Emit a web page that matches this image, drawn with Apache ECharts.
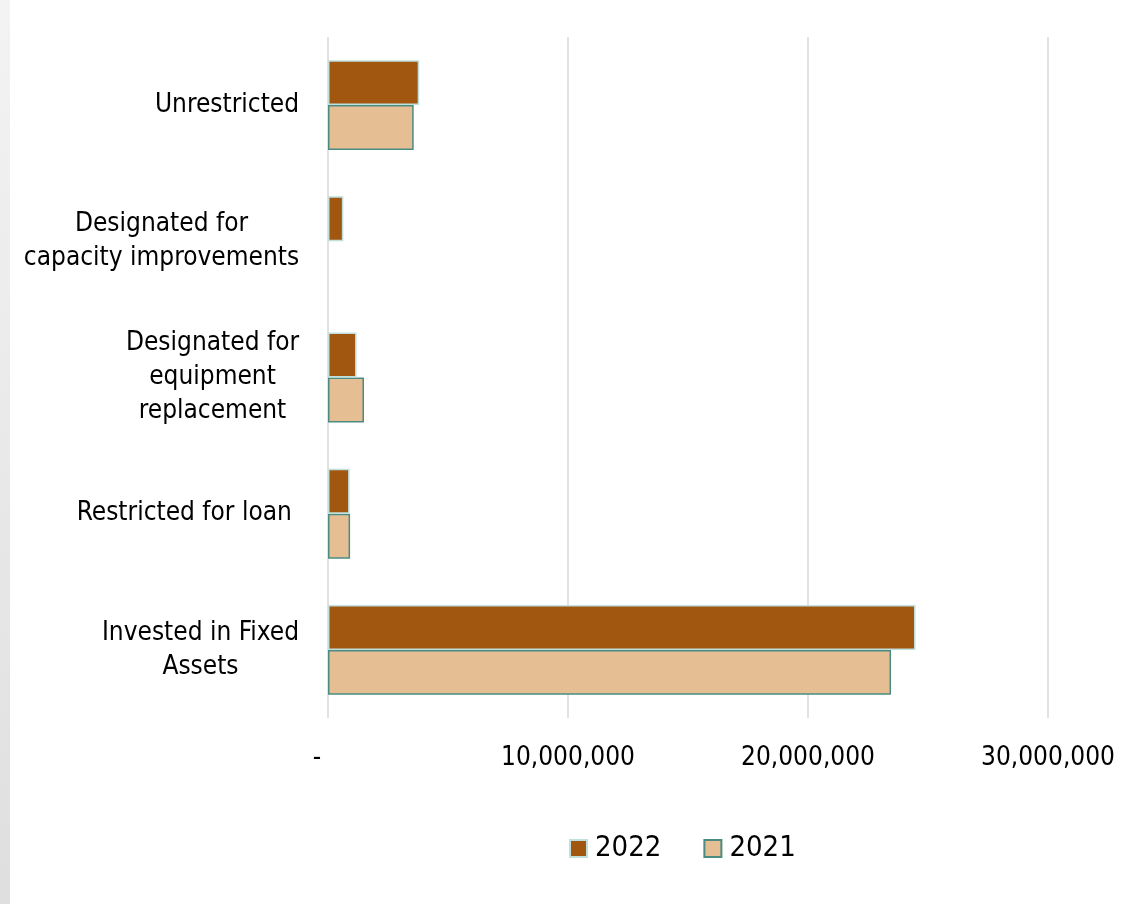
<!DOCTYPE html>
<html>
<head>
<meta charset="utf-8">
<script src="https://cdn.jsdelivr.net/npm/echarts@6/dist/echarts.min.js"></script>
<style>
  html, body { margin: 0; padding: 0; background: #ffffff; }
  #wrap { position: relative; width: 1141px; height: 904px; }
  #edge { position: absolute; left: 0; top: 0; width: 10px; height: 904px;
          background: linear-gradient(to bottom, #f3f3f3, #dfdfdf); z-index: 2; }
  #chart { position: absolute; left: 0; top: 0; width: 1141px; height: 904px; }
</style>
</head>
<body>
<div id="wrap">
  <div id="edge"></div>
  <div id="chart"></div>
</div>
<script>
// Net position components (top to bottom)
const categories = [
  'Unrestricted',
  'Designated for\ncapacity improvements',
  'Designated for\nequipment\nreplacement',
  'Restricted for loan ',
  'Invested in Fixed\nAssets'
];
const values2022 = [3800000, 640000, 1190000, 900000, 24480000];
const values2021 = [3570000, null, 1500000, 920000, 23460000];
const seriesNames = ['2022', '2021'];

const FONT = '"DejaVu Sans Condensed", "DejaVu Sans", Tahoma, sans-serif';
const LABEL_SIZE = 26;

// Measure each category's widest line so its lines can be centred in one block
const ctx = document.createElement('canvas').getContext('2d');
ctx.font = LABEL_SIZE + 'px ' + FONT;
const rich = {};
categories.forEach((c, i) => {
  const w = Math.max(...c.split('\n').map(l => ctx.measureText(l).width));
  rich['c' + i] = {
    width: Math.ceil(w) + 1, align: 'center',
    fontFamily: FONT, fontSize: LABEL_SIZE, color: '#000', lineHeight: 34
  };
});

// Accounting-style number format: zero shows as a dash
function fmtAxis(v) {
  if (v === 0) return '-   ';
  return v.toString().replace(/\B(?=(\d{3})+(?!\d))/g, ',');
}

const chart = echarts.init(document.getElementById('chart'), null, { renderer: 'canvas' });
chart.setOption({
  backgroundColor: '#ffffff',
  animation: false,
  grid: { left: 328, right: 93, top: 37, bottom: 186, containLabel: false },
  xAxis: {
    type: 'value', min: 0, max: 30000000, interval: 10000000,
    axisLine: { show: false },
    axisTick: { show: false },
    splitLine: { show: true, lineStyle: { color: '#d9d9d9', width: 1.5 } },
    axisLabel: {
      formatter: fmtAxis, margin: 27,
      fontFamily: FONT, fontSize: LABEL_SIZE, color: '#000'
    }
  },
  yAxis: {
    type: 'category', data: categories, inverse: true,
    axisLine: { show: false },
    axisTick: { show: false },
    splitLine: { show: false },
    axisLabel: {
      margin: 28, align: 'right',
      formatter: (value) => {
        const i = categories.indexOf(value);
        return value.split('\n').map(l => '{c' + i + '|' + l + '}').join('\n');
      },
      rich: rich
    }
  },
  legend: {
    data: seriesNames,
    left: 564, top: 829,
    itemWidth: 17, itemHeight: 17, itemGap: 42,
    icon: 'rect',
    textStyle: { fontFamily: FONT, fontSize: 29, color: '#000', padding: [0, 0, 0, 3] }
  },
  series: [
    {
      name: '2022', type: 'bar', data: values2022, z: 3,
      barGap: '0%', barCategoryGap: '34%',
      itemStyle: { color: '#a25710', borderColor: '#bfe0dc', borderWidth: 1.5 }
    },
    {
      name: '2021', type: 'bar', data: values2021, z: 2,
      barGap: '0%', barCategoryGap: '34%',
      itemStyle: { color: '#e5be93', borderColor: '#4b8c82', borderWidth: 1.5 }
    }
  ]
});
</script>
</body>
</html>
